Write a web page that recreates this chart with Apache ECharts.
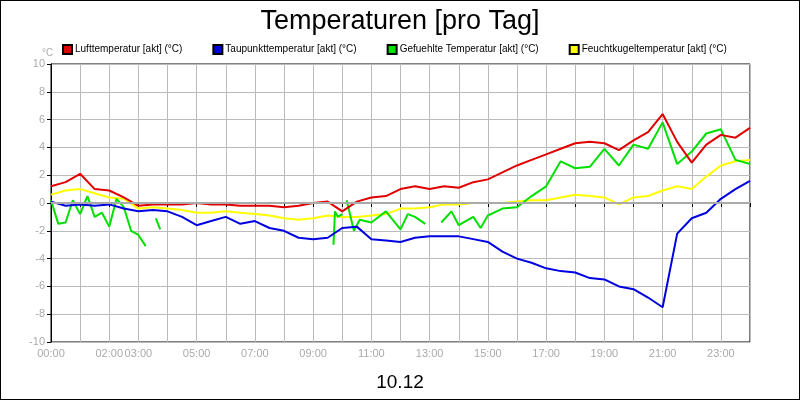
<!DOCTYPE html>
<html>
<head>
<meta charset="UTF-8">
<style>
  html, body { margin: 0; padding: 0; background: #fff; }
  #chart { width: 798px; height: 398px; border: 1px solid #000; }
</style>
</head>
<body>
<div id="chart"></div>
<script src="https://cdn.jsdelivr.net/npm/echarts@6/dist/echarts.min.js"></script>
<script>
// Stunden (halbstündlich)
const hours = [0,0.5,1,1.5,2,2.5,3,3.5,4,4.5,5,5.5,6,6.5,7,7.5,8,8.5,9,9.5,10,10.5,11,11.5,12,12.5,13,13.5,14,14.5,15,15.5,16,16.5,17,17.5,18,18.5,19,19.5,20,20.5,21,21.5,22,22.5,23,23.5,24];
const luft = [1.2,1.5,2.1,1.0,0.9,0.4,-0.2,-0.1,-0.1,-0.1,0,-0.1,-0.1,-0.2,-0.2,-0.2,-0.3,-0.2,0,0.1,-0.6,0.1,0.4,0.5,1.0,1.2,1.0,1.2,1.1,1.5,1.7,2.2,2.7,3.1,3.5,3.9,4.3,4.4,4.3,3.8,4.5,5.1,6.4,4.4,2.9,4.2,4.9,4.7,5.4];
const taupunkt = [0.1,-0.2,-0.1,-0.2,-0.1,-0.4,-0.6,-0.5,-0.6,-1.0,-1.6,-1.3,-1.0,-1.5,-1.3,-1.8,-2.0,-2.5,-2.6,-2.5,-1.8,-1.7,-2.6,-2.7,-2.8,-2.5,-2.4,-2.4,-2.4,-2.6,-2.8,-3.5,-4.0,-4.3,-4.7,-4.9,-5.0,-5.4,-5.5,-6.0,-6.2,-6.8,-7.5,-2.2,-1.1,-0.7,0.3,1.0,1.6];
const feuchtkugel = [0.6,0.9,1.0,0.7,0.4,0.3,-0.4,-0.3,-0.4,-0.5,-0.7,-0.7,-0.6,-0.7,-0.8,-0.9,-1.1,-1.2,-1.1,-0.9,-1.0,-1.0,-0.9,-0.8,-0.4,-0.4,-0.3,-0.1,-0.1,0,0,0,0.1,0.2,0.2,0.4,0.6,0.5,0.4,-0.1,0.4,0.5,0.9,1.2,1.0,1.9,2.7,3.0,3.1];
// Gefuehlte Temperatur mit Luecken (null)
const gefHours = [0,0.25,0.5,0.75,1,1.25,1.5,1.75,2,2.25,2.5,2.75,3,3.25,3.4,3.6,3.75,3.8,9.7,9.75,9.85,10,10.1,10.15,10.4,10.6,11,11.5,12,12.25,12.5,12.85,13.1,13.4,13.75,14,14.5,14.75,15,15.5,16,16.5,17,17.5,18,18.5,19,19.5,20,20.5,21,21.5,22,22.5,23,23.5,24];
const gefVals = [0.2,-1.5,-1.4,0.2,-0.8,0.5,-1.0,-0.7,-1.7,0.3,-0.3,-2.0,-2.3,-3.1,null,-1.1,-1.9,null,-3.0,-0.6,-1.0,-0.8,null,0.2,-2.0,-1.2,-1.4,-0.6,-1.9,-0.8,-1.0,-1.5,null,-1.4,-0.6,-1.6,-1.0,-1.8,-0.9,-0.4,-0.3,0.5,1.2,3.0,2.5,2.6,3.9,2.7,4.2,3.9,5.8,2.8,3.7,5.0,5.3,3.1,2.8];
const shownHours = [0,2,3,5,7,9,11,13,15,17,19,21,23];

const pair = (xs, ys) => xs.map((x, i) => [x, ys[i]]);
const fmt = h => (h < 10 ? '0' : '') + h + ':00';

const chart = echarts.init(document.getElementById('chart'));
const lineStyle = c => ({ type: 'line', showSymbol: false, connectNulls: false, lineStyle: { width: 2, color: c }, itemStyle: { color: c, borderColor: '#000', borderWidth: 1 } });

chart.setOption({
  animation: false,
  textStyle: { fontFamily: 'Liberation Sans, Arial, sans-serif' },
  title: [
    { text: 'Temperaturen [pro Tag]', left: 'center', top: 2, textStyle: { fontSize: 27, fontWeight: 'normal', color: '#000' } },
    { text: '10.12', left: 'center', top: 367, textStyle: { fontSize: 19, fontWeight: 'normal', color: '#000' } },
    { text: '°C', left: 36, top: 42, textStyle: { fontSize: 10, fontWeight: 'normal', color: '#aaa' } }
  ],
  legend: {
    top: 38, left: 56, itemWidth: 9, itemHeight: 9, itemGap: 30,
    icon: 'rect',
    textStyle: { fontSize: 10, color: '#000', padding: [0, 0, 0, -2] },
    data: ['Lufttemperatur [akt] (°C)', 'Taupunkttemperatur [akt] (°C)', 'Gefuehlte Temperatur [akt] (°C)', 'Feuchtkugeltemperatur [akt] (°C)']
  },
  grid: { left: 50, right: 49, top: 63, bottom: 57, show: true, borderColor: '#000', borderWidth: 1 },
  xAxis: {
    type: 'value', min: 0, max: 24, interval: 1,
    axisLine: { lineStyle: { color: '#000', width: 1 } },
    axisTick: { lineStyle: { color: '#000' }, length: 4 },
    splitLine: { lineStyle: { color: '#bbb', width: 1 } },
    axisLabel: { color: '#aaa', fontSize: 11, margin: 6,
      formatter: v => shownHours.includes(v) ? fmt(v) : '' }
  },
  yAxis: {
    type: 'value', min: -10, max: 10, interval: 2,
    axisLine: { show: true, lineStyle: { color: '#000' } },
    axisTick: { show: true, lineStyle: { color: '#000' }, length: 4 },
    splitLine: { lineStyle: { color: '#bbb', width: 1 } },
    axisLabel: { color: '#aaa', fontSize: 11, margin: 6 }
  },
  series: [
    Object.assign(lineStyle('#e00000'), { name: 'Lufttemperatur [akt] (°C)', data: pair(hours, luft), z: 4 }),
    Object.assign(lineStyle('#0000e0'), { name: 'Taupunkttemperatur [akt] (°C)', data: pair(hours, taupunkt), z: 3 }),
    Object.assign(lineStyle('#00e000'), { name: 'Gefuehlte Temperatur [akt] (°C)', data: pair(gefHours, gefVals), z: 2 }),
    Object.assign(lineStyle('#ffff00'), { name: 'Feuchtkugeltemperatur [akt] (°C)', data: pair(hours, feuchtkugel), z: 1 }),
    { type: 'line', data: [], z: 0, silent: true,
      markLine: { silent: true, symbol: 'none', label: { show: false }, lineStyle: { color: '#aaa', width: 2, type: 'solid' }, data: [{ yAxis: 0 }] } }
  ]
});
</script>
</body>
</html>
